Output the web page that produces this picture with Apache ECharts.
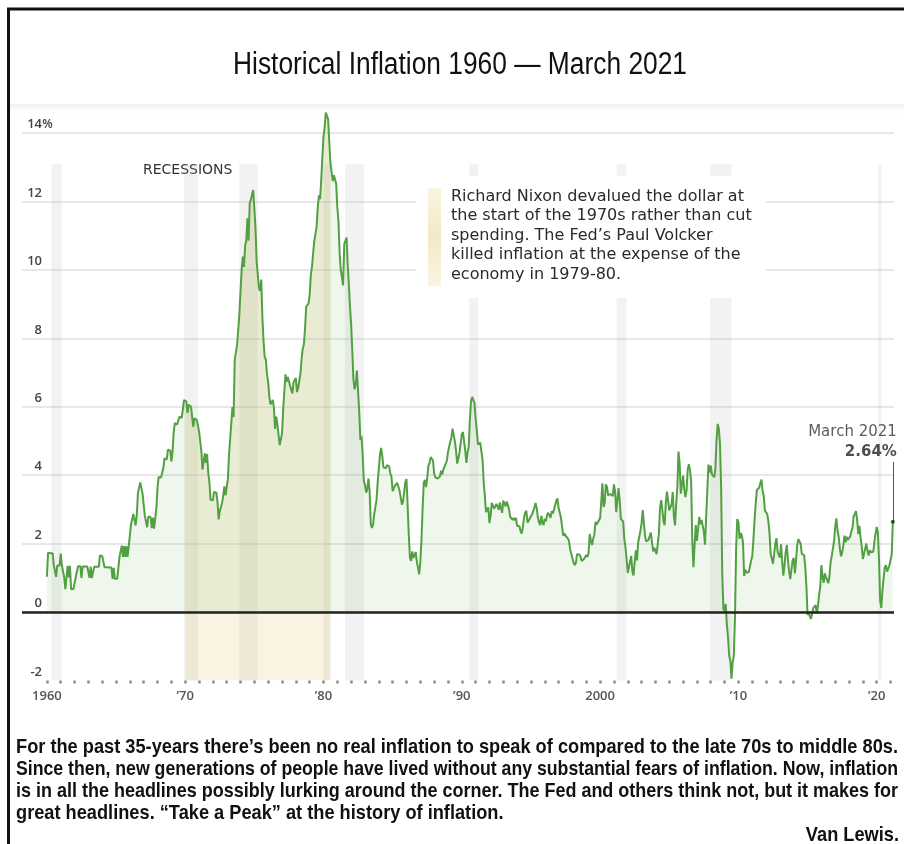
<!DOCTYPE html>
<html>
<head>
<meta charset="utf-8">
<title>Historical Inflation 1960 — March 2021</title>
<script src="https://cdn.jsdelivr.net/npm/echarts@6/dist/echarts.min.js"></script>
<style>
  html, body { margin: 0; padding: 0; background: #fff; }
  #chart { width: 904px; height: 844px; }
</style>
</head>
<body>
<div id="chart"></div>
<script>
// Monthly year-over-year CPI change (%), January through December for each year.
const cpi1960s = [
  1.03, 1.73, 1.73, 1.72, 1.72, 1.72, 1.37, 1.37, 1.03, 1.36, 1.36, 1.36,
  1.71, 1.36, 1.36, 1.01, 0.67, 0.67, 1.35, 1.01, 1.35, 0.67, 0.67, 0.67,
  0.67, 1.01, 1.01, 1.34, 1.34, 1.34, 1.00, 1.33, 1.33, 1.33, 1.33, 1.33,
  1.33, 1.00, 1.33, 0.99, 0.99, 1.32, 1.32, 1.32, 1.32, 1.32, 1.65, 1.64,
  1.64, 1.64, 1.31, 1.31, 1.31, 1.31, 1.30, 1.30, 1.30, 0.97, 1.29, 0.97,
  0.97, 0.97, 1.29, 1.62, 1.62, 1.94, 1.61, 1.93, 1.61, 1.93, 1.61, 1.92,
  1.92, 2.56, 2.56, 2.87, 2.87, 2.53, 2.85, 3.48, 3.48, 3.79, 3.78, 3.46,
  3.46, 2.81, 2.80, 2.48, 2.79, 2.79, 2.77, 2.45, 2.76, 2.44, 2.74, 3.04,
  3.65, 3.95, 3.94, 3.93, 3.92, 4.20, 4.49, 4.48, 4.46, 4.75, 4.74, 4.72,
  4.40, 4.68, 5.25, 5.52, 5.51, 5.48, 5.44, 5.71, 5.70, 5.68, 5.93, 6.20
];
const cpi1970s = [
  6.18, 6.15, 5.82, 6.06, 6.04, 6.01, 5.98, 5.41, 5.66, 5.64, 5.62, 5.57,
  5.29, 5.00, 4.71, 4.16, 4.40, 4.64, 4.36, 4.62, 4.08, 3.80, 3.28, 3.27,
  3.27, 3.51, 3.50, 3.49, 3.23, 2.71, 2.95, 2.94, 3.19, 3.42, 3.67, 3.41,
  3.65, 3.87, 4.59, 5.06, 5.53, 5.99, 5.70, 7.38, 7.36, 7.80, 8.25, 8.71,
  9.39, 10.02, 10.39, 10.09, 10.71, 10.86, 11.51, 10.86, 11.95, 12.06, 12.20, 12.34,
  11.80, 11.23, 10.25, 10.21, 9.47, 9.39, 9.72, 8.60, 7.91, 7.44, 7.38, 6.94,
  6.72, 6.29, 6.07, 6.05, 6.20, 5.97, 5.35, 5.71, 5.49, 5.46, 4.88, 4.86,
  5.22, 5.91, 6.44, 6.95, 6.73, 6.87, 6.83, 6.62, 6.60, 6.39, 6.72, 6.70,
  6.84, 6.43, 6.55, 6.50, 6.97, 7.41, 7.70, 7.83, 8.31, 8.93, 8.89, 9.02,
  9.28, 9.86, 10.09, 10.49, 10.85, 10.89, 11.26, 11.82, 12.18, 12.07, 12.61, 13.29
];
const cpi1980s = [
  13.91, 14.18, 14.60, 14.55, 14.41, 14.38, 13.13, 12.87, 12.60, 12.77, 12.65, 12.52,
  11.83, 11.41, 10.49, 10.00, 9.78, 9.55, 10.76, 10.80, 10.95, 10.14, 9.59, 8.92,
  8.39, 7.62, 6.78, 6.51, 6.68, 7.06, 6.44, 5.85, 5.04, 5.14, 4.59, 3.83,
  3.71, 3.49, 3.60, 3.90, 3.55, 2.58, 2.46, 2.56, 2.86, 2.85, 3.27, 3.79,
  4.19, 4.60, 4.80, 4.56, 4.23, 4.22, 4.20, 4.29, 4.27, 4.26, 4.05, 3.95,
  3.53, 3.52, 3.70, 3.69, 3.77, 3.76, 3.55, 3.35, 3.14, 3.23, 3.51, 3.80,
  3.89, 3.11, 2.26, 1.59, 1.49, 1.77, 1.58, 1.57, 1.75, 1.47, 1.29, 1.10,
  1.46, 2.10, 3.03, 3.78, 3.86, 3.65, 3.93, 4.28, 4.36, 4.53, 4.53, 4.43,
  4.05, 3.94, 3.93, 3.90, 3.89, 3.96, 4.13, 4.02, 4.17, 4.25, 4.25, 4.42,
  4.67, 4.83, 4.98, 5.11, 5.36, 5.17, 4.98, 4.72, 4.34, 4.49, 4.66, 4.65
];
const cpi1990s = [
  5.20, 5.26, 5.23, 4.71, 4.36, 4.67, 4.82, 5.62, 6.16, 6.29, 6.27, 6.11,
  5.65, 5.31, 4.90, 4.89, 4.95, 4.70, 4.45, 3.80, 3.39, 2.92, 2.99, 3.06,
  2.60, 2.82, 3.19, 3.18, 3.02, 3.09, 3.16, 3.15, 2.99, 3.20, 3.05, 2.90,
  3.26, 3.25, 3.09, 3.23, 3.22, 3.00, 2.78, 2.77, 2.69, 2.75, 2.68, 2.75,
  2.52, 2.52, 2.51, 2.36, 2.29, 2.49, 2.77, 2.90, 2.96, 2.61, 2.67, 2.67,
  2.80, 2.86, 2.85, 3.05, 3.19, 3.04, 2.76, 2.62, 2.54, 2.81, 2.61, 2.54,
  2.73, 2.65, 2.84, 2.90, 2.89, 2.75, 2.95, 2.88, 3.00, 2.99, 3.26, 3.32,
  3.04, 3.03, 2.76, 2.50, 2.23, 2.30, 2.23, 2.23, 2.15, 2.08, 1.83, 1.70,
  1.57, 1.44, 1.37, 1.44, 1.69, 1.68, 1.68, 1.62, 1.49, 1.49, 1.55, 1.61,
  1.67, 1.61, 1.73, 2.28, 2.09, 1.96, 2.14, 2.26, 2.63, 2.56, 2.62, 2.68
];
const cpi2000s = [
  2.74, 3.22, 3.76, 3.07, 3.19, 3.73, 3.66, 3.41, 3.45, 3.45, 3.45, 3.39,
  3.73, 3.53, 2.92, 3.27, 3.62, 3.25, 2.72, 2.72, 2.65, 2.13, 1.90, 1.55,
  1.14, 1.14, 1.48, 1.64, 1.18, 1.07, 1.46, 1.80, 1.51, 2.03, 2.20, 2.38,
  2.60, 2.98, 3.02, 2.22, 2.06, 2.11, 2.11, 2.16, 2.32, 2.04, 1.77, 1.88,
  1.93, 1.69, 1.74, 2.29, 3.05, 3.27, 2.99, 2.65, 2.54, 3.19, 3.52, 3.26,
  2.97, 3.01, 3.15, 3.51, 2.80, 2.53, 3.17, 3.64, 4.69, 4.35, 3.46, 3.42,
  3.99, 3.60, 3.36, 3.55, 4.17, 4.32, 4.15, 3.82, 2.06, 1.31, 1.97, 2.54,
  2.08, 2.42, 2.78, 2.57, 2.69, 2.69, 2.36, 1.97, 2.76, 3.54, 4.31, 4.08,
  4.28, 4.03, 3.98, 3.94, 4.18, 5.02, 5.50, 5.37, 4.94, 3.66, 1.07, 0.09,
  0.03, 0.24, -0.38, -0.74, -1.28, -1.43, -1.95, -1.48, -1.29, -0.18, 1.84, 2.72
];
const cpi2010s = [
  2.63, 2.14, 2.31, 2.24, 2.02, 1.05, 1.24, 1.15, 1.14, 1.17, 1.14, 1.50,
  1.63, 2.11, 2.68, 3.16, 3.57, 3.56, 3.63, 3.77, 3.87, 3.53, 3.39, 2.96,
  2.93, 2.87, 2.65, 2.30, 1.70, 1.66, 1.41, 1.69, 1.99, 2.16, 1.76, 1.74,
  1.59, 1.98, 1.47, 1.06, 1.36, 1.75, 1.96, 1.52, 1.18, 0.96, 1.24, 1.50,
  1.58, 1.13, 1.51, 1.95, 2.13, 2.07, 1.99, 1.70, 1.66, 1.66, 1.32, 0.76,
  -0.09, -0.03, -0.07, -0.20, -0.04, 0.12, 0.17, 0.20, -0.04, 0.17, 0.50, 0.73,
  1.37, 1.02, 0.85, 1.13, 1.02, 1.01, 0.84, 1.06, 1.46, 1.64, 1.69, 2.07,
  2.50, 2.74, 2.38, 2.20, 1.87, 1.63, 1.73, 1.94, 2.23, 2.04, 2.20, 2.11,
  2.07, 2.21, 2.36, 2.46, 2.80, 2.87, 2.95, 2.70, 2.28, 2.52, 2.18, 1.91,
  1.55, 1.52, 1.86, 2.00, 1.79, 1.65, 1.81, 1.75, 1.71, 1.76, 2.05, 2.29
];
// 2020 (12 months) and January–March 2021
const cpi2020s = [
  2.49, 2.33, 1.54, 0.33, 0.12, 0.65, 0.99, 1.31, 1.37, 1.18, 1.17, 1.36,
  1.40, 1.68, 2.64
];

// US recessions (start, end) in fractional years
const recessions = [
  [1960.33, 1961.08], [1969.92, 1970.92], [1973.92, 1975.25], [1980.0, 1980.5],
  [1981.55, 1982.92], [1990.55, 1991.2], [2001.2, 2001.9], [2007.95, 2009.5],
  [2020.1, 2020.35]
];
// Period covered by the Nixon / Volcker note
const highlightPeriod = [1970.0, 1980.5];

const yearLabels = [1960, 1970, 1980, 1990, 2000, 2010, 2020];
const yTicks = [-2, 0, 2, 4, 6, 8, 10, 12, 14];

const noteLines = [
  'For the past 35-years there\u2019s been no real inflation to speak of compared to the late 70s to middle 80s.',
  'Since then, new generations of people have lived without any substantial fears of inflation. Now, inflation',
  'is in all the headlines possibly lurking around the corner. The Fed and others think not, but it makes for',
  'great headlines. \u201cTake a Peak\u201d at the history of inflation.'
];

const decades = [
  [1960, cpi1960s], [1970, cpi1970s], [1980, cpi1980s], [1990, cpi1990s],
  [2000, cpi2000s], [2010, cpi2010s], [2020, cpi2020s]
];
const series = [];
decades.forEach(([start, vals]) => {
  vals.forEach((v, i) => series.push([start + i / 12, v]));
});
const highlighted = series.filter(p => p[0] >= highlightPeriod[0] && p[0] <= highlightPeriod[1] + 0.01);
const last = series[series.length - 1];

const yearTicks = [];
for (let y = 1960; y <= 2021; y++) yearTicks.push(y);

const chart = echarts.init(document.getElementById('chart'), null, { renderer: 'canvas' });

const sansFamily = '"Liberation Sans", Arial, sans-serif';
const chartFont = '"Open Sans", "Noto Sans", sans-serif';
const noteFont = '"DejaVu Sans", Verdana, sans-serif';

// Condensed look for the headline and paragraph: measure, then squeeze horizontally.
const measureCtx = document.createElement('canvas').getContext('2d');
function textWidth(str, font) {
  measureCtx.font = font;
  return measureCtx.measureText(str).width;
}
const titleFont = '31px ' + sansFamily;
const titleText = 'Historical Inflation 1960 \u2014 March 2021';
const titleScale = 454 / textWidth(titleText, titleFont);

const paraFont = 'bold 21px ' + sansFamily;
const paraLeft = 16, paraRight = 898;
const paraScales = noteLines.map(l => (paraRight - paraLeft) / textWidth(l, paraFont));
paraScales[3] = paraScales[0];

const paragraph = noteLines.map((line, i) => ({
  type: 'text',
  silent: true,
  x: paraLeft,
  y: 747 + i * 22,
  scaleX: paraScales[i],
  style: {
    text: line,
    font: paraFont,
    fill: '#111',
    textAlign: 'left',
    textVerticalAlign: 'middle'
  }
}));

chart.setOption({
  animation: false,
  backgroundColor: '#ffffff',
  grid: { left: 22, right: 10, top: 99, bottom: 163.6, containLabel: false },
  xAxis: {
    type: 'value',
    min: 1958.2,
    max: 2021.25,
    axisLine: { show: true, onZero: false, lineStyle: { opacity: 0 } },
    splitLine: { show: false },
    axisTick: {
      show: true,
      customValues: yearTicks,
      length: 3,
      lineStyle: { color: '#8c8c8c', width: 2.5 }
    },
    axisLabel: {
      customValues: yearLabels,
      margin: 9,
      color: '#555',
      fontFamily: chartFont,
      fontWeight: 600,
      fontSize: 13,
      formatter: v => (v === 1960 || v === 2000) ? String(v) : '\u2019' + String(v % 100).padStart(2, '0')
    }
  },
  yAxis: {
    type: 'value',
    min: -2,
    max: 15,
    interval: 2,
    axisLine: { show: false },
    axisTick: { show: false },
    splitLine: {
      show: true,
      showMinLine: false,
      showMaxLine: false,
      lineStyle: { color: '#e8e8e8', width: 2 }
    },
    axisLabel: {
      inside: true,
      margin: 31,
      align: 'right',
      verticalAlign: 'bottom',
      color: '#444',
      fontFamily: chartFont,
      fontWeight: 600,
      fontSize: 13,
      padding: [0, 0, 2, 0],
      formatter: v => {
        if (yTicks.indexOf(v) < 0) return '';
        return '{n|' + v + '}{p|' + (v === 14 ? '%' : ' ') + '}';
      },
      rich: {
        n: { fontFamily: chartFont, fontWeight: 600, fontSize: 13, color: '#444' },
        p: { fontFamily: chartFont, fontWeight: 600, fontSize: 12, color: '#444', width: 11, align: 'left' }
      }
    }
  },
  series: [
    {
      // recession bands
      type: 'line',
      data: [],
      silent: true,
      z: 1,
      markArea: {
        silent: true,
        itemStyle: { color: 'rgba(175,175,175,0.16)' },
        data: recessions.map(r => [{ xAxis: r[0], yAxis: -2 }, { xAxis: r[1], yAxis: 13.1 }])
      }
    },
    {
      // highlighted 1970s period, filled from the floor up to the curve
      type: 'line',
      data: highlighted,
      showSymbol: false,
      silent: true,
      z: 2,
      lineStyle: { width: 0 },
      areaStyle: { origin: 'start', color: 'rgba(226,196,118,0.30)' }
    },
    {
      type: 'line',
      data: series,
      showSymbol: false,
      silent: true,
      z: 4,
      lineStyle: { color: '#52a043', width: 2 },
      areaStyle: { color: 'rgba(112,186,92,0.16)' },
      markLine: {
        silent: true,
        symbol: 'none',
        label: { show: false },
        lineStyle: { color: '#222', width: 2.5, type: 'solid' },
        data: [{ yAxis: 0 }]
      }
    },
    {
      // latest reading with its callout
      type: 'scatter',
      data: [last],
      symbol: 'circle',
      symbolSize: 4,
      silent: true,
      z: 5,
      itemStyle: { color: '#222' },
      label: {
        show: true,
        position: [6, -98],
        align: 'right',
        verticalAlign: 'top',
        lineHeight: 20,
        formatter: () => '{m|March 2021}\n{v|' + last[1].toFixed(2) + '%}',
        rich: {
          m: { fontFamily: noteFont, fontSize: 15, color: '#333', align: 'right', lineHeight: 20 },
          v: { fontFamily: noteFont, fontSize: 15, fontWeight: 'bold', color: '#222', align: 'right', lineHeight: 20 }
        }
      },
      markLine: {
        silent: true,
        symbol: 'none',
        label: { show: false },
        lineStyle: { color: '#555', width: 1, type: 'solid' },
        data: [[{ coord: [last[0], last[1]] }, { coord: [last[0], last[1] + 1.75] }]]
      }
    }
  ],
  graphic: [
    {
      type: 'rect',
      silent: true,
      shape: { x: 8.5, y: 9, width: 905, height: 900 },
      style: { fill: 'none', stroke: '#111', lineWidth: 3 },
      z: 100
    },
    {
      type: 'rect',
      silent: true,
      shape: { x: 10, y: 104, width: 894, height: 10 },
      style: {
        fill: new echarts.graphic.LinearGradient(0, 0, 0, 1, [
          { offset: 0, color: 'rgba(240,240,240,1)' },
          { offset: 1, color: 'rgba(255,255,255,0)' }
        ])
      },
      z: -1
    },
    {
      type: 'text',
      silent: true,
      x: 460, y: 65,
      scaleX: titleScale,
      style: {
        text: titleText,
        font: titleFont,
        fill: '#111',
        textAlign: 'center',
        textVerticalAlign: 'middle'
      }
    },
    {
      type: 'text',
      silent: true,
      x: 143, y: 163,
      style: {
        text: 'RECESSIONS',
        font: '14px ' + noteFont,
        fill: '#333',
        textAlign: 'left',
        textVerticalAlign: 'top'
      }
    },
    {
      // white backing behind the note so grid lines and bands stop short of it
      type: 'rect',
      silent: true,
      z: 3,
      shape: { x: 416, y: 176, width: 350, height: 122 },
      style: { fill: '#ffffff' }
    },
    {
      type: 'rect',
      silent: true,
      z: 6,
      shape: { x: 428, y: 188, width: 13, height: 98 },
      style: {
        fill: new echarts.graphic.LinearGradient(0, 0, 0, 1, [
          { offset: 0, color: 'rgba(246,238,206,0.6)' },
          { offset: 0.5, color: 'rgba(242,232,196,1)' },
          { offset: 1, color: 'rgba(246,238,206,0.6)' }
        ])
      }
    },
    {
      type: 'text',
      silent: true,
      z: 6,
      x: 451, y: 187,
      style: {
        text: 'Richard Nixon devalued the dollar at\nthe start of the 1970s rather than cut\nspending. The Fed\u2019s Paul Volcker\nkilled inflation at the expense of the\neconomy in 1979-80.',
        font: '16px ' + noteFont,
        lineHeight: 19.5,
        fill: '#2a2a2a',
        textAlign: 'left',
        textVerticalAlign: 'top'
      }
    }
  ].concat(paragraph, [
    {
      type: 'text',
      silent: true,
      x: 899, y: 835,
      scaleX: paraScales[0],
      style: {
        text: 'Van Lewis.',
        font: paraFont,
        fill: '#111',
        textAlign: 'right',
        textVerticalAlign: 'middle'
      }
    }
  ])
});
</script>
</body>
</html>
